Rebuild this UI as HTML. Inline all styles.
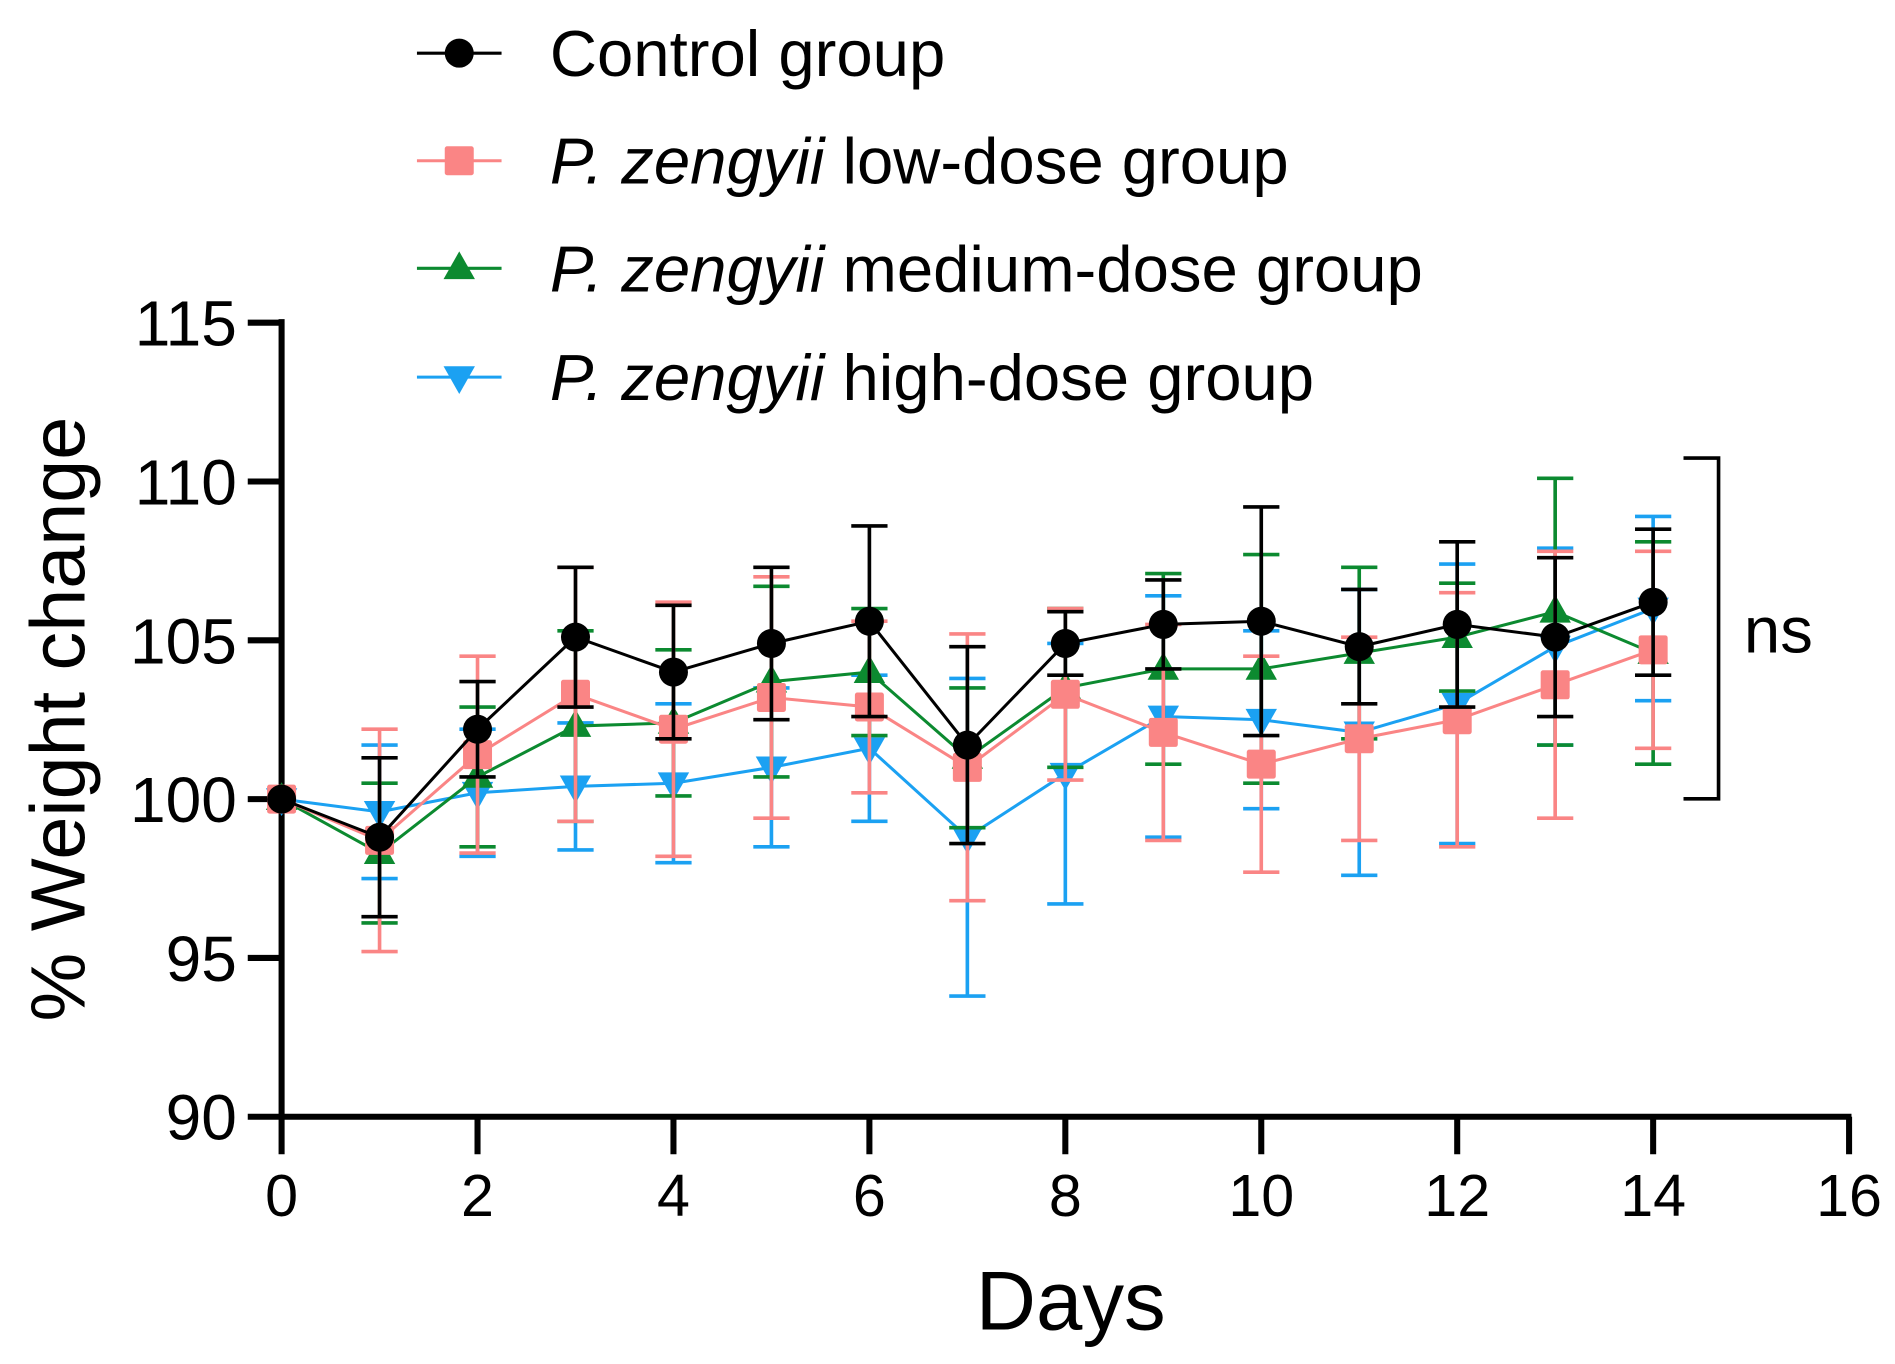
<!DOCTYPE html>
<html><head><meta charset="utf-8"><style>html,body{margin:0;padding:0;background:#fff}svg{display:block}text{font-family:"Liberation Sans",sans-serif;fill:#000}</style></head>
<body>
<svg id="chart" width="1895" height="1364" viewBox="0 0 1568 1128.6" preserveAspectRatio="none" xmlns="http://www.w3.org/2000/svg">
<g id="axes"></g>
<g id="plot"></g>
<g id="legend"></g>
<text transform="translate(70,595) rotate(-90)" text-anchor="middle" font-size="64">% Weight change</text>
<text x="886" y="1100" text-anchor="middle" font-size="69">Days</text>
<path d="M1393,379 H1422 V661 H1393" fill="none" stroke="#000" stroke-width="3"/>
<text x="1443" y="540" font-size="54">ns</text>
</svg>
<script>
const days=[0,1,2,3,4,5,6,7,8,9,10,11,12,13,14];
const controlMean=[100,98.8,102.2,105.1,104.0,104.9,105.6,101.7,104.9,105.5,105.6,104.8,105.5,105.1,106.2];
const controlSD=[0,2.5,1.5,2.2,2.1,2.4,3.0,3.1,1.0,1.4,3.6,1.8,2.6,2.5,2.3];
const lowMean=[100,98.7,101.4,103.3,102.2,103.2,102.9,101.0,103.3,102.1,101.1,101.9,102.5,103.6,104.7];
const lowSD=[0,3.5,3.1,4.0,4.0,3.8,2.7,4.2,2.7,3.4,3.4,3.2,4.0,4.2,3.1];
const medMean=[100,98.3,100.7,102.3,102.4,103.7,104.0,101.3,103.5,104.1,104.1,104.6,105.1,105.9,104.6];
const medSD=[0,2.2,2.2,3.0,2.3,3.0,2.0,2.2,2.5,3.0,3.6,2.7,1.7,4.2,3.5];
const highMean=[100,99.6,100.2,100.4,100.5,101.0,101.6,98.8,100.8,102.6,102.5,102.1,103.0,104.8,106.0];
const highSD=[0,2.1,2.0,2.0,2.5,2.5,2.3,5.0,4.1,3.8,2.8,4.5,4.4,3.1,2.9];
const xTicks=[0,2,4,6,8,10,12,14,16];
const yTicks=[90,95,100,105,110,115];
const NS='http://www.w3.org/2000/svg';
const X=d=>233+d*(1530-233)/16;
const Y=v=>924-(v-90)*(924-267)/25;
function mk(tag,attrs,parent){const e=document.createElementNS(NS,tag);for(const k in attrs)e.setAttribute(k,attrs[k]);parent.appendChild(e);return e;}
const axes=document.getElementById('axes');
let l=mk('line',{x1:233,y1:264,x2:233,y2:926,stroke:'#000','stroke-width':5},axes);


l=mk('line',{x1:231,y1:924,x2:1532,y2:924,stroke:'#000','stroke-width':5},axes);


yTicks.forEach(v=>{const t=mk('line',{x1:205,y1:Y(v),x2:233,y2:Y(v),stroke:'#000','stroke-width':5},axes);


const tx=mk('text',{x:196,y:Y(v)+19,'text-anchor':'end','font-size':53},axes);tx.textContent=v;

});
xTicks.forEach(v=>{const t=mk('line',{x1:X(v),y1:924,x2:X(v),y2:955,stroke:'#000','stroke-width':5},axes);


const tx=mk('text',{x:X(v),y:1006,'text-anchor':'middle','font-size':49},axes);tx.textContent=v;

});
const plot=document.getElementById('plot');
function marker(type,x,y,c,p){
 if(type==='circle')return mk('circle',{cx:x,cy:y,r:12,fill:c},p);
 if(type==='square')return mk('rect',{x:x-12,y:y-12,width:24,height:24,rx:2,fill:c},p);
 if(type==='up')return mk('polygon',{points:`${x},${y-14} ${x+13},${y+9} ${x-13},${y+9}`,fill:c},p);
 return mk('polygon',{points:`${x},${y+14} ${x+13},${y-9} ${x-13},${y-9}`,fill:c},p);
}
const series=[
 {name:'high-dose',m:highMean,s:highSD,c:'#1ba1f2',t:'down'},
 {name:'medium-dose',m:medMean,s:medSD,c:'#0c8a30',t:'up'},
 {name:'low-dose',m:lowMean,s:lowSD,c:'#fa8585',t:'square'},
 {name:'control',m:controlMean,s:controlSD,c:'#000',t:'circle'}];
series.forEach(se=>{
 const g=mk('g',{},plot);
 
 
 days.forEach((d,i)=>{if(!se.s[i])return;const x=X(d),a=Y(se.m[i]+se.s[i]),b=Y(se.m[i]-se.s[i]);
  const e=mk('path',{d:`M${x},${a}V${b}M${x-15},${a}H${x+15}M${x-15},${b}H${x+15}`,stroke:se.c,'stroke-width':3,fill:'none'},g);
  
  });
 const ln=mk('polyline',{points:days.map((d,i)=>X(d)+','+Y(se.m[i])).join(' '),fill:'none',stroke:se.c,'stroke-width':2.5},g);
 
 
 days.forEach((d,i)=>{const m=marker(se.t,X(d),Y(se.m[i]),se.c,g);
  
  });
});
const leg=document.getElementById('legend');
const legItems=[['Control group','','#000','circle'],['P. zengyii',' low-dose group','#fa8585','square'],['P. zengyii',' medium-dose group','#0c8a30','up'],['P. zengyii',' high-dose group','#1ba1f2','down']];
const legY=[44,133,222,312];
legItems.forEach((it,i)=>{
 const y=legY[i];const c=it[2];const t=it[3];
 const g=mk('g',{},leg);
 
 
 mk('line',{x1:345,y1:y,x2:415,y2:y,stroke:c,'stroke-width':2.5},g);
 marker(t,380,y,c,g);
 const tx=mk('text',{x:455,y:y+19,'font-size':54},g);
 if(i===0){tx.textContent=it[0];}else{const s1=mk('tspan',{'font-style':'italic'},tx);s1.textContent=it[0];const s2=mk('tspan',{},tx);s2.textContent=it[1];}
});
</script>
</body></html>
